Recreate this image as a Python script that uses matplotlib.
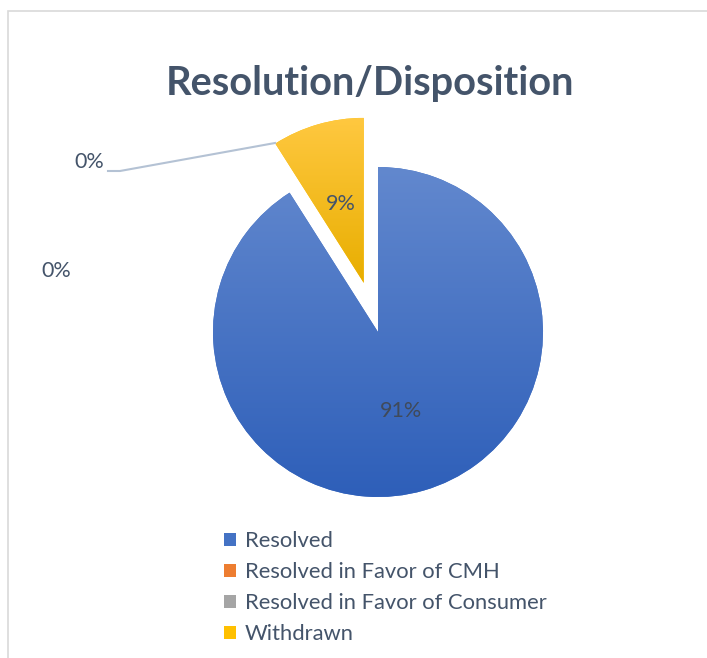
import matplotlib.pyplot as plt
import numpy as np
from matplotlib.colors import LinearSegmentedColormap
from matplotlib.patches import Rectangle, Patch

# Data
categories = ["Resolved", "Resolved in Favor of CMH",
              "Resolved in Favor of Consumer", "Withdrawn"]
values = [91, 0, 0, 9]
base_colors = ["#4472C4", "#ED7D31", "#A5A5A5", "#FFC000"]
gradients = [("#6288CE", "#2E5FB9"), ("#F4A06A", "#D9661C"),
             ("#BDBDBD", "#8E8E8E"), ("#FFC840", "#E8AE00")]

title_color = "#44546A"
plt.rcParams['font.family'] = ['Lato', 'DejaVu Sans']

W, H = 707, 658
R = 165
fig = plt.figure(figsize=(W / 100, H / 100), dpi=100)
ax = fig.add_axes([0, 0, 1, 1])

# explode is in data units here (radius is in pixels)
explode = [0, 0, 0, 0.31 * R]

wedges, texts, pct = ax.pie(values, colors=base_colors, startangle=90,
                            counterclock=False, explode=explode,
                            radius=R, center=(378, 326),
                            autopct='%1.0f%%', pctdistance=0.5,
                            wedgeprops=dict(linewidth=0),
                            textprops=dict(color=title_color, fontsize=15.5))

# vertical gradient fill clipped to each wedge
for w, (c_top, c_bot), v in zip(wedges, gradients, values):
    if v == 0:
        continue
    bb = w.get_path().get_extents()
    cmap = LinearSegmentedColormap.from_list("g", [c_bot, c_top])
    grad = np.linspace(0, 1, 256).reshape(-1, 1)
    im = ax.imshow(grad, cmap=cmap, origin="lower", aspect="auto",
                   extent=[bb.x0, bb.x1, bb.y0, bb.y1], zorder=w.get_zorder() + 0.1)
    im.set_clip_path(w)

for t in pct:
    t.set_zorder(5)
pct[0].set_color("#404A5A")

# zero-value labels sit outside the pie
pct[1].set_position((89, 496))
pct[2].set_position((56, 387))
ax.plot([108, 120, 275], [487, 487, 515], color="#B4C2D4", lw=1.5, zorder=4)

ax.set_xlim(0, W)
ax.set_ylim(0, H)
ax.set_aspect("equal")
ax.axis("off")

# chart area border
fig.patches.append(Rectangle((8 / W, -0.1), 1.2, (H - 11) / H + 0.1,
                             transform=fig.transFigure, fill=False,
                             edgecolor="#D9D9D9", linewidth=1.2))

fig.text(370 / W, 1 - 83 / H, "Resolution/Disposition", ha="center", va="center",
         fontsize=28.6, fontweight="bold", color=title_color)

handles = [Patch(facecolor=c, edgecolor="none") for c in base_colors]
leg = fig.legend(handles, categories, loc="upper left",
                 bbox_to_anchor=(224 / W, 1 - 531 / H), frameon=False,
                 fontsize=15.8, handlelength=0.55, handleheight=0.55,
                 handletextpad=0.4, labelspacing=0.5,
                 borderpad=0, borderaxespad=0)
for t in leg.get_texts():
    t.set_color(title_color)

fig.savefig("out.png", dpi=100)
